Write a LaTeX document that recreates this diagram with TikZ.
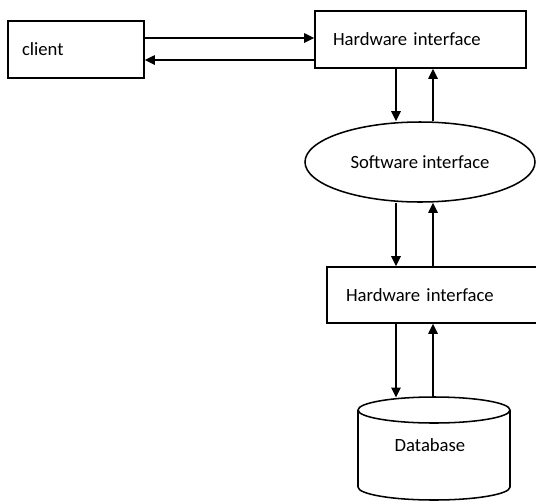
\documentclass[tikz,border=0pt]{standalone}
\usepackage{fontspec}
\setmainfont{Carlito}
\usepackage{tikz}
\usetikzlibrary{arrows.meta,shapes}

\begin{document}
\begin{tikzpicture}[x=0.75pt, y=-0.75pt,
	every node/.style = {font=\fontsize{14}{16}\selectfont},
	box/.style = {draw, line width=1.15pt, rectangle, align=left, inner ysep=0pt, minimum height=42.75pt},
	flow/.style = {line width=1.15pt, -{Triangle[length=7.5pt, width=7pt]}}]
	\useasboundingbox (0,0) rectangle (536,501);
	\node[box, minimum width=102pt, inner xsep=10.5pt, text width=81pt] (client) at (76,49.5) {client};
	\node[box, minimum width=158.25pt, inner xsep=13.5pt, text width=131.25pt] (hwa) at (420.5,39.5) {Hardware interface};
	\node[draw, line width=1.15pt, ellipse, inner sep=0pt, minimum width=172.5pt, minimum height=60pt] (sw) at (420,162) {Software interface};
	\node[box, minimum width=174.75pt, minimum height=42pt, inner xsep=14.25pt, text width=146.25pt] (hwb) at (443.5,295) {Hardware interface};
	\draw[line width=1.15pt] (434,410) ellipse [x radius=76, y radius=13];
	\draw[line width=1.15pt] (358,410) -- (358,487) arc [start angle=180, end angle=0, x radius=76, y radius=13] -- (510,410);
	\node (db) at (430,445) {Database};
	\coordinate (dbtop) at (434,397.5);
	\coordinate (go) at (0,38);
	\coordinate (back) at (0,60);
	\coordinate (dn) at (396,0);
	\coordinate (up) at (433,0);
	\draw[flow] (client.east |- go) -- (hwa.west |- go);
	\draw[flow] (hwa.west |- back) -- (client.east |- back);
	\draw[flow] (hwa.south -| dn) -- (sw.north -| dn);
	\draw[flow] (sw.north -| up) -- (hwa.south -| up);
	\draw[flow] (sw.south -| dn) -- (hwb.north -| dn);
	\draw[flow] (hwb.north -| up) -- (sw.south -| up);
	\draw[flow] (hwb.south -| dn) -- (dbtop -| dn);
	\draw[flow] (dbtop -| up) -- (hwb.south -| up);
\end{tikzpicture}
\end{document}
